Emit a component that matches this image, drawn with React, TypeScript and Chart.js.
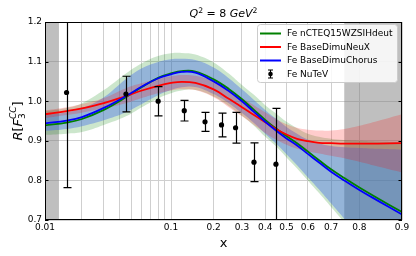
import React, { useEffect, useRef } from 'react';
import { Chart, registerables, Scale } from 'chart.js';

Chart.register(...registerables);

// ---------- data ----------
const xGrid = [0.01, 0.015, 0.02, 0.03, 0.045, 0.06, 0.08, 0.1, 0.12, 0.15, 0.2, 0.25, 0.3, 0.35, 0.4, 0.45, 0.5, 0.55, 0.6, 0.65, 0.7, 0.75, 0.8, 0.85, 0.9];

const nctCentral = [0.939, 0.946, 0.955, 0.978, 1.010, 1.036, 1.059, 1.070, 1.076, 1.075, 1.055, 1.031, 1.005, 0.978, 0.953, 0.931, 0.912, 0.894, 0.873, 0.851, 0.828, 0.806, 0.782, 0.755, 0.720];
const nctUpper = [0.975, 0.983, 0.995, 1.028, 1.070, 1.096, 1.114, 1.121, 1.122, 1.118, 1.098, 1.070, 1.041, 1.016, 0.990, 0.969, 0.948, 0.932, 0.918, 0.910, 0.905, 0.902, 0.900, 0.898, 0.896];
const nctLower = [0.915, 0.918, 0.922, 0.940, 0.962, 0.985, 1.007, 1.020, 1.027, 1.028, 1.012, 0.988, 0.963, 0.938, 0.910, 0.886, 0.858, 0.830, 0.800, 0.768, 0.733, 0.694, 0.645, 0.590, 0.520];

const neuxCentral = [0.967, 0.975, 0.982, 0.995, 1.013, 1.027, 1.039, 1.046, 1.049, 1.046, 1.030, 1.006, 0.985, 0.965, 0.947, 0.930, 0.916, 0.905, 0.899, 0.895, 0.894, 0.893, 0.893, 0.893, 0.894];
const neuxUpper = [0.977, 0.985, 0.993, 1.008, 1.033, 1.046, 1.057, 1.063, 1.066, 1.064, 1.050, 1.028, 1.008, 0.990, 0.972, 0.955, 0.942, 0.933, 0.928, 0.926, 0.926, 0.930, 0.938, 0.950, 0.967];
const neuxLower = [0.957, 0.965, 0.971, 0.982, 0.995, 1.008, 1.020, 1.027, 1.030, 1.028, 1.010, 0.985, 0.962, 0.940, 0.920, 0.903, 0.890, 0.880, 0.873, 0.868, 0.862, 0.856, 0.847, 0.835, 0.820];

const chorusCentral = [0.944, 0.951, 0.960, 0.983, 1.013, 1.037, 1.058, 1.068, 1.074, 1.072, 1.050, 1.026, 1.000, 0.973, 0.948, 0.926, 0.906, 0.888, 0.867, 0.845, 0.822, 0.800, 0.776, 0.749, 0.714];
const chorusUpper = [0.965, 0.972, 0.982, 1.010, 1.056, 1.083, 1.099, 1.106, 1.107, 1.104, 1.085, 1.058, 1.030, 1.003, 0.978, 0.956, 0.935, 0.918, 0.903, 0.893, 0.887, 0.884, 0.882, 0.880, 0.878];
const chorusLower = [0.925, 0.930, 0.937, 0.952, 0.972, 0.993, 1.015, 1.028, 1.035, 1.036, 1.018, 0.995, 0.970, 0.945, 0.918, 0.893, 0.866, 0.838, 0.808, 0.777, 0.742, 0.703, 0.655, 0.600, 0.530];

const nutevX = [0.015, 0.045, 0.080, 0.125, 0.175, 0.225, 0.275, 0.35, 0.45];
const nutevY = [1.022, 1.018, 1.000, 0.976, 0.948, 0.940, 0.933, 0.846, 0.841];
const nutevErr = [0.24, 0.045, 0.037, 0.026, 0.024, 0.030, 0.039, 0.049, 0.141];

const seriesLabels = ['Fe nCTEQ15WZSIHdeut', 'Fe BaseDimuNeuX', 'Fe BaseDimuChorus', 'Fe NuTeV'];

const xTickValues = [0.01, 0.02, 0.03, 0.04, 0.05, 0.06, 0.07, 0.08, 0.09, 0.1, 0.2, 0.3, 0.4, 0.5, 0.6, 0.7, 0.8, 0.9];
const xTickLabels = ['0.01', '', '', '', '', '', '', '', '', '0.1', '0.2', '0.3', '0.4', '0.5', '0.6', '0.7', '0.8', '0.9'];
const yTickValues = [0.7, 0.8, 0.9, 1.0, 1.1, 1.2];

const xRange = [0.01, 0.9];
const yRange = [0.7, 1.2];
const graySpanLow = [0.01, 0.013];
const graySpanHigh = [0.75, 0.9];

// ---------- logit scale ----------
const logit = (v: number) => Math.log10(v / (1 - v));

class LogitScale extends (Scale as any) {
  static id = 'logit';
  static defaults = {};
  _lmin = 0;
  _lmax = 1;
  determineDataLimits() {
    this.min = this.options.min;
    this.max = this.options.max;
  }
  buildTicks() {
    return xTickValues.map((v) => ({ value: v }));
  }
  getLabelForValue(v: number) {
    return String(v);
  }
  configure() {
    super.configure();
    this._lmin = logit(this.min);
    this._lmax = logit(this.max);
  }
  getPixelForValue(v: number) {
    if (v === undefined || v === null || isNaN(v) || v <= 0 || v >= 1) return NaN;
    return this.getPixelForDecimal((logit(v) - this._lmin) / (this._lmax - this._lmin));
  }
  getValueForPixel(p: number) {
    const l = this._lmin + this.getDecimalForPixel(p) * (this._lmax - this._lmin);
    const e = Math.pow(10, l);
    return e / (1 + e);
  }
}
Chart.register(LogitScale as any);

const FONT = 'DejaVu Sans';
const GREEN = '#008000';
const RED = '#ff0000';
const BLUE = '#0000ff';

type Part = { t: string; it?: boolean; s: number; dy?: number; stackWith?: boolean };

function drawMath(ctx: CanvasRenderingContext2D, parts: Part[], cx: number, baseY: number) {
  const widths = parts.map((p) => {
    ctx.font = `${p.it ? 'italic ' : ''}${p.s}px "${FONT}"`;
    return ctx.measureText(p.t).width;
  });
  let total = 0;
  for (let i = 0; i < parts.length; i++) {
    if (parts[i].stackWith) {
      total += Math.max(0, widths[i] - widths[i - 1]);
    } else total += widths[i];
  }
  let x = cx - total / 2;
  let prevX = x;
  let prevW = 0;
  ctx.textBaseline = 'alphabetic';
  ctx.textAlign = 'left';
  for (let i = 0; i < parts.length; i++) {
    const p = parts[i];
    ctx.font = `${p.it ? 'italic ' : ''}${p.s}px "${FONT}"`;
    if (p.stackWith) {
      ctx.fillText(p.t, prevX, baseY + (p.dy || 0));
      const w = Math.max(prevW, widths[i]);
      x = prevX + w;
      prevW = w;
    } else {
      ctx.fillText(p.t, x, baseY + (p.dy || 0));
      prevX = x;
      prevW = widths[i];
      x += widths[i];
    }
  }
}

const decorPlugin = {
  id: 'decor',
  beforeDatasetsDraw(chart: any) {
    const { ctx, chartArea: a, scales } = chart;
    const xs = scales.x;
    ctx.save();
    ctx.fillStyle = 'rgba(128,128,128,0.5)';
    for (const span of [graySpanLow, graySpanHigh]) {
      const p0 = xs.getPixelForValue(span[0]);
      const p1 = xs.getPixelForValue(span[1]);
      ctx.fillRect(p0, a.top, p1 - p0, a.bottom - a.top);
    }
    ctx.restore();
  },
  afterDatasetsDraw(chart: any) {
    const { ctx, chartArea: a, scales } = chart;
    const xs = scales.x;
    const ys = scales.y;
    ctx.save();
    ctx.beginPath();
    ctx.rect(a.left, a.top, a.right - a.left, a.bottom - a.top);
    ctx.clip();
    ctx.strokeStyle = '#000';
    ctx.lineWidth = 1.2;
    for (let i = 0; i < nutevX.length; i++) {
      const px = Math.round(xs.getPixelForValue(nutevX[i])) + 0.5;
      const pt = ys.getPixelForValue(nutevY[i] + nutevErr[i]);
      const pb = ys.getPixelForValue(nutevY[i] - nutevErr[i]);
      ctx.beginPath();
      ctx.moveTo(px, pt);
      ctx.lineTo(px, pb);
      ctx.moveTo(px - 4, pt);
      ctx.lineTo(px + 4, pt);
      ctx.moveTo(px - 4, pb);
      ctx.lineTo(px + 4, pb);
      ctx.stroke();
    }
    ctx.restore();

    ctx.save();
    ctx.strokeStyle = '#000';
    ctx.lineWidth = 1;
    ctx.strokeRect(a.left + 0.5, a.top + 0.5, a.right - a.left - 1, a.bottom - a.top - 1);
    ctx.beginPath();
    for (const v of yTickValues) {
      const py = Math.round(ys.getPixelForValue(v)) + 0.5;
      ctx.moveTo(a.left, py);
      ctx.lineTo(a.left + 3.5, py);
      ctx.moveTo(a.right, py);
      ctx.lineTo(a.right - 3.5, py);
    }
    ctx.stroke();

    ctx.fillStyle = '#000';
    drawMath(ctx, [
      { t: 'Q', it: true, s: 11 },
      { t: '2', s: 7.7, dy: -4.5 },
      { t: ' = 8 ', s: 11 },
      { t: 'GeV', it: true, s: 11 },
      { t: '2', s: 7.7, dy: -4.5 },
    ], (a.left + a.right) / 2, 17);

    ctx.font = `13px "${FONT}"`;
    ctx.textAlign = 'center';
    ctx.textBaseline = 'alphabetic';
    ctx.fillText('x', (a.left + a.right) / 2, 247);

    ctx.save();
    ctx.translate(22, (a.top + a.bottom) / 2);
    ctx.rotate(-Math.PI / 2);
    drawMath(ctx, [
      { t: 'R', it: true, s: 13 },
      { t: '[', s: 13 },
      { t: 'F', it: true, s: 13 },
      { t: '3', s: 9, dy: 3 },
      { t: 'CC', it: true, s: 9, dy: -6, stackWith: true },
      { t: ']', s: 13 },
    ], 0, 0);
    ctx.restore();

    const lx = 257, ly = 24, lw = 140, lh = 58;
    ctx.fillStyle = 'rgba(255,255,255,0.85)';
    ctx.strokeStyle = '#cccccc';
    ctx.lineWidth = 1;
    ctx.beginPath();
    (ctx as any).roundRect(lx + 0.5, ly + 0.5, lw, lh, 3);
    ctx.fill();
    ctx.stroke();
    const rows = [33.5, 47, 60.5, 74];
    const cols = [GREEN, RED, BLUE, '#000'];
    ctx.font = `9px "${FONT}"`;
    ctx.textAlign = 'left';
    ctx.textBaseline = 'middle';
    for (let i = 0; i < 4; i++) {
      const ry = rows[i];
      if (i < 3) {
        ctx.strokeStyle = cols[i];
        ctx.lineWidth = 2;
        ctx.beginPath();
        ctx.moveTo(260, ry);
        ctx.lineTo(281, ry);
        ctx.stroke();
      } else {
        ctx.strokeStyle = '#000';
        ctx.lineWidth = 1.2;
        ctx.beginPath();
        ctx.moveTo(270.5, ry - 4);
        ctx.lineTo(270.5, ry + 4);
        ctx.moveTo(268, ry - 4);
        ctx.lineTo(273, ry - 4);
        ctx.moveTo(268, ry + 4);
        ctx.lineTo(273, ry + 4);
        ctx.stroke();
        ctx.fillStyle = '#000';
        ctx.beginPath();
        ctx.arc(270.5, ry, 2.3, 0, Math.PI * 2);
        ctx.fill();
      }
      ctx.fillStyle = '#000';
      ctx.fillText(seriesLabels[i], 287, ry + 0.5);
    }
    ctx.restore();
  },
};

function pts(ys: number[]) {
  return xGrid.map((x, i) => ({ x, y: ys[i] }));
}

export default function App() {
  const ref = useRef<HTMLCanvasElement>(null);
  useEffect(() => {
    const canvas = ref.current;
    if (!canvas) return;
    const band = (data: number[], color: string, fill: any, order: number) => ({
      data: pts(data),
      borderWidth: 0,
      borderColor: 'rgba(0,0,0,0)',
      backgroundColor: color,
      pointRadius: 0,
      tension: 0.4,
      fill,
      order,
    });
    const line = (data: number[], color: string, order: number, label: string) => ({
      label,
      data: pts(data),
      borderWidth: 1.8,
      borderColor: color,
      pointRadius: 0,
      tension: 0.4,
      fill: false,
      order,
    });
    const chart = new Chart(canvas, {
      type: 'line',
      data: {
        datasets: [
          band(nctUpper, 'rgba(0,128,0,0.2)', '+1', 10),
          band(nctLower, 'rgba(0,0,0,0)', false, 10),
          band(chorusUpper, 'rgba(70,110,230,0.42)', '+1', 9),
          band(chorusLower, 'rgba(0,0,0,0)', false, 9),
          band(neuxUpper, 'rgba(255,0,0,0.2)', '+1', 8),
          band(neuxLower, 'rgba(0,0,0,0)', false, 8),
          line(nctCentral, GREEN, 3, seriesLabels[0]),
          line(neuxCentral, RED, 2, seriesLabels[1]),
          line(chorusCentral, BLUE, 1, seriesLabels[2]),
          {
            label: seriesLabels[3],
            data: nutevX.map((x, i) => ({ x, y: nutevY[i] })),
            showLine: false,
            pointRadius: 2.6,
            pointBackgroundColor: '#000',
            pointBorderColor: '#000',
            pointBorderWidth: 0,
            order: 0,
          } as any,
        ] as any,
      },
      options: {
        animation: false,
        responsive: false,
        events: [],
        layout: { padding: { left: 0, top: 22, right: 14, bottom: 0 } },
        plugins: {
          legend: { display: false },
          tooltip: { enabled: false },
          title: { display: false },
        },
        scales: {
          x: {
            type: 'logit' as any,
            position: 'bottom',
            min: xRange[0],
            max: xRange[1],
            afterFit: (s: any) => { s.height = 36; },
            grid: { color: '#cfcfcf', lineWidth: 1, drawTicks: false },
            border: { display: false },
            ticks: {
              autoSkip: false,
              maxRotation: 0,
              minRotation: 0,
              padding: 2,
              color: '#000',
              font: { family: FONT, size: 9 },
              callback: (_v: any, i: number) => xTickLabels[i],
            },
          } as any,
          y: {
            type: 'linear',
            min: yRange[0],
            max: yRange[1],
            afterFit: (s: any) => { s.width = 45; },
            grid: { color: '#cfcfcf', lineWidth: 1, drawTicks: false },
            border: { display: false },
            afterBuildTicks: (s: any) => { s.ticks = yTickValues.map((v) => ({ value: v })); },
            ticks: {
              padding: 3,
              color: '#000',
              font: { family: FONT, size: 9 },
              callback: (v: any) => Number(v).toFixed(1),
            },
          } as any,
        },
      } as any,
      plugins: [decorPlugin as any],
    });
    return () => chart.destroy();
  }, []);
  return (
    <canvas
      ref={ref}
      width={416}
      height={256}
      style={{ position: 'fixed', left: 0, top: 0, display: 'block' }}
    />
  );
}
